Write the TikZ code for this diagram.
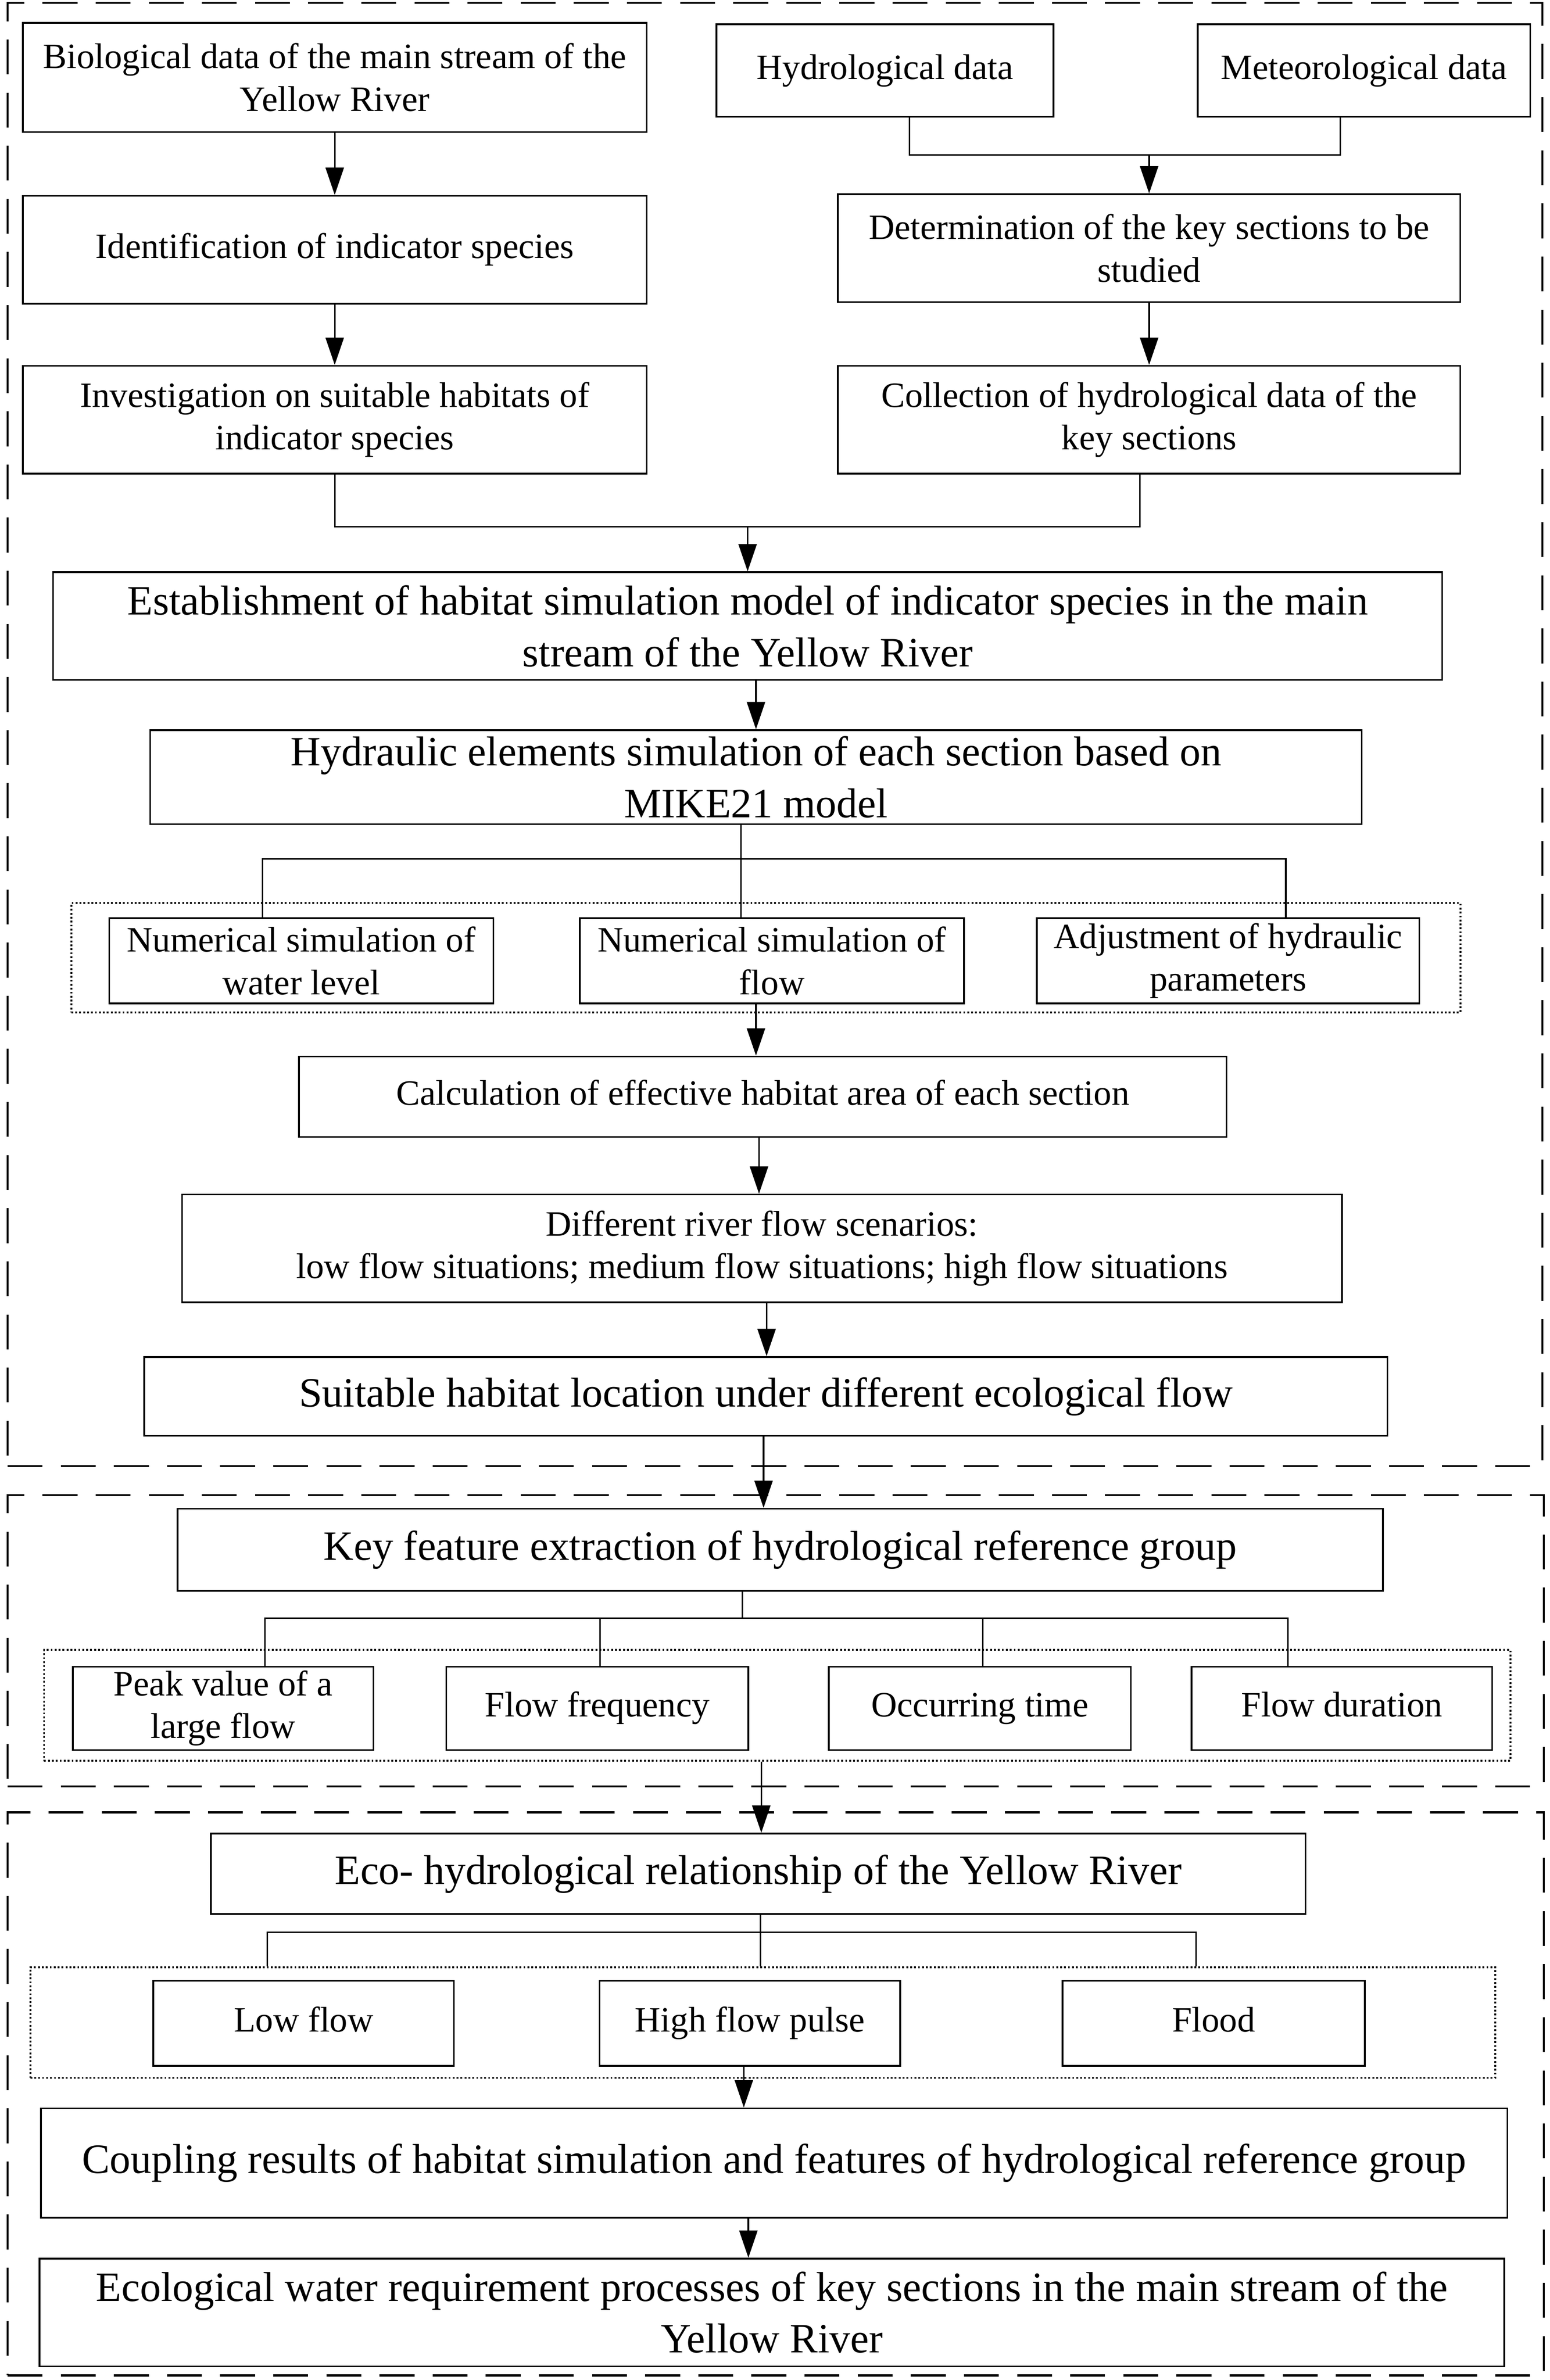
\documentclass[tikz,border=0pt]{standalone}
\usepackage{fontspec}
\setmainfont{Liberation Serif}
\usetikzlibrary{arrows.meta,calc}
\newcommand\normtxt{\fontsize{23.5}{28}\selectfont}
\newcommand\bigtxt{\fontsize{27.5}{34}\selectfont}
\begin{document}
\begin{tikzpicture}[x=1pt,y=-1pt,
  box/.style={draw, line width=1.1pt, inner sep=0pt, align=center, font=\normtxt},
  bigbox/.style={box, font=\bigtxt},
  one/.style={execute at begin node=\strut},
  dashbox/.style={draw, line width=1.3pt, dash pattern=on 23pt off 12pt, inner sep=0pt},
  dotbox/.style={draw, line width=1.2pt, dash pattern=on 1.2pt off 1.4pt, inner sep=0pt},
  conn/.style={line width=1pt},
  arr/.style={conn, -{Triangle[length=18pt,width=12pt]}}]
\useasboundingbox (0,0) rectangle (1021,1568);

% dashed group frames
\node[dashbox, minimum width=1011, minimum height=964] (D1) at (510.5,484) {};
\node[dashbox, minimum width=1012, minimum height=192] (D2) at (511,1081) {};
\node[dashbox, minimum width=1012, minimum height=371] (D3) at (511,1379.5) {};

% dotted groups
\node[dotbox, minimum width=915, minimum height=72] (G1) at (504.5,631) {};
\node[dotbox, minimum width=966, minimum height=73] (G2) at (512,1123.5) {};
\node[dotbox, minimum width=965, minimum height=73] (G3) at (502.5,1332.5) {};

% top row
\node[box, minimum width=411, minimum height=72] (bio) at (220.5,51) {Biological data of the main stream of the\\Yellow River};
\node[box, one, minimum width=222, minimum height=61] (hydro) at (583,46.5) {Hydrological data};
\node[box, one, minimum width=219, minimum height=61] (meteo) at (898.5,46.5) {Meteorological data};
\node[box, one, minimum width=411, minimum height=71] (ident) at (220.5,164.5) {Identification of indicator species};
\node[box, minimum width=410, minimum height=71] (determ) at (757,163.5) {Determination of the key sections to be\\studied};
\node[box, minimum width=411, minimum height=71] (invest) at (220.5,276.5) {Investigation on suitable habitats of\\indicator species};
\node[box, minimum width=410, minimum height=71] (collect) at (757,276.5) {Collection of hydrological data of the\\key sections};

\node[bigbox, minimum width=915, minimum height=71] (establish) at (492.5,412.5) {Establishment of habitat simulation model of indicator species in the main\\stream of the Yellow River};
\node[bigbox, minimum width=798, minimum height=62] (hydraulic) at (498,512) {Hydraulic elements simulation of each section based on\\MIKE21 model};

\node[box, minimum width=253, minimum height=56] (numwl) at (198.5,633) {Numerical simulation of\\water level};
\node[box, minimum width=253, minimum height=56] (numflow) at (508.5,633) {Numerical simulation of\\flow};
\node[box, minimum width=252, minimum height=56] (adjust) at (809,633) {Adjustment of hydraulic\\parameters};

\node[box, one, minimum width=611, minimum height=53] (calc) at (502.5,722.5) {Calculation of effective habitat area of each section};
\node[box, minimum width=764, minimum height=71] (scen) at (502,822.5) {Different river flow scenarios:\\low flow situations; medium flow situations; high flow situations};
\node[bigbox, one, minimum width=819, minimum height=52] (suit) at (504.5,920) {Suitable habitat location under different ecological flow};

% second group
\node[bigbox, one, minimum width=794, minimum height=54] (keyfeat) at (514,1021) {Key feature extraction of hydrological reference group};
\node[box, minimum width=198, minimum height=55] (peak) at (147,1125.5) {Peak value of a\\large flow};
\node[box, one, minimum width=199, minimum height=55] (freq) at (393.5,1125.5) {Flow frequency};
\node[box, one, minimum width=199, minimum height=55] (occ) at (645.5,1125.5) {Occurring time};
\node[box, one, minimum width=198, minimum height=55] (dur) at (884,1125.5) {Flow duration};

% third group
\node[bigbox, one, minimum width=721, minimum height=53] (ecohydro) at (499.5,1234.5) {Eco- hydrological relationship of the Yellow River};
\node[box, one, minimum width=198, minimum height=56] (lowflow) at (200,1333) {Low flow};
\node[box, one, minimum width=198, minimum height=56] (highp) at (494,1333) {High flow pulse};
\node[box, one, minimum width=199, minimum height=56] (flood) at (799.5,1333) {Flood};
\node[bigbox, one, minimum width=966, minimum height=72] (coupling) at (510,1425) {Coupling results of habitat simulation and features of hydrological reference group};
\node[bigbox, minimum width=965, minimum height=71] (ecowater) at (508.5,1523.5) {Ecological water requirement processes of key sections in the main stream of the\\Yellow River};

% junction coordinates
\coordinate (j1) at (757,102);
\coordinate (j2) at (492.5,347);
\coordinate (j3) at (488,566);
\coordinate (j4) at (489,1066);
\coordinate (j5) at (501,1273);
\coordinate (c498) at (498,0);
\coordinate (c500) at (500,0);
\coordinate (c505) at (505,0);
\coordinate (c503) at (503,0);
\coordinate (c502) at (501.5,0);
\coordinate (c490) at (490,0);
\coordinate (c493) at (493,0);

% connectors, left column
\draw[arr] (bio) -- (ident);
\draw[arr] (ident) -- (invest);
% right column
\draw[conn] ([xshift=16pt]hydro.south) |- (j1) -| ([xshift=-15.5pt]meteo.south);
\draw[arr] (j1) -- (determ.north);
\draw[arr] (determ) -- (collect);
% merge into establish
\draw[conn] (invest.south) |- (j2) -| ([xshift=-6pt]collect.south);
\draw[arr] (j2) -- (establish.north);
\draw[arr] (establish.south -| c498) -- (hydraulic.north -| c498);
% hydraulic fan-out
\draw[conn] (hydraulic.south -| j3) -- (numflow.north -| j3);
\draw[conn] ([xshift=-25.5pt]numwl.north) |- (j3) -| ([xshift=38pt]adjust.north);
\draw[arr] (numflow.south -| c498) -- (calc.north -| c498);
\draw[arr] (calc.south -| c500) -- (scen.north -| c500);
\draw[arr] (scen.south -| c505) -- (suit.north -| c505);
\draw[arr] (suit.south -| c503) -- (keyfeat.north -| c503);
% key feature fan-out
\draw[conn] (keyfeat.south -| j4) -- (j4);
\draw[conn] ([xshift=27.5pt]peak.north) |- (j4) -| ([xshift=-35.5pt]dur.north);
\draw[conn] ([xshift=1.8pt]freq.north) -- ([xshift=1.8pt]freq.north |- j4);
\draw[conn] ([xshift=2pt]occ.north) -- ([xshift=2pt]occ.north |- j4);
\draw[arr] (G2.south -| c502) -- (ecohydro.north -| c502);
% eco-hydro fan-out
\draw[conn] (ecohydro.south -| j5) -- (G3.north -| j5);
\coordinate (e1) at (176,1273);
\coordinate (e2) at (788,1273);
\draw[conn] (G3.north -| e1) -- (e1) -- (e2) -- (G3.north -| e2);
\draw[arr] (highp.south -| c490) -- (coupling.north -| c490);
\draw[arr] (coupling.south -| c493) -- (ecowater.north -| c493);
\end{tikzpicture}
\end{document}
